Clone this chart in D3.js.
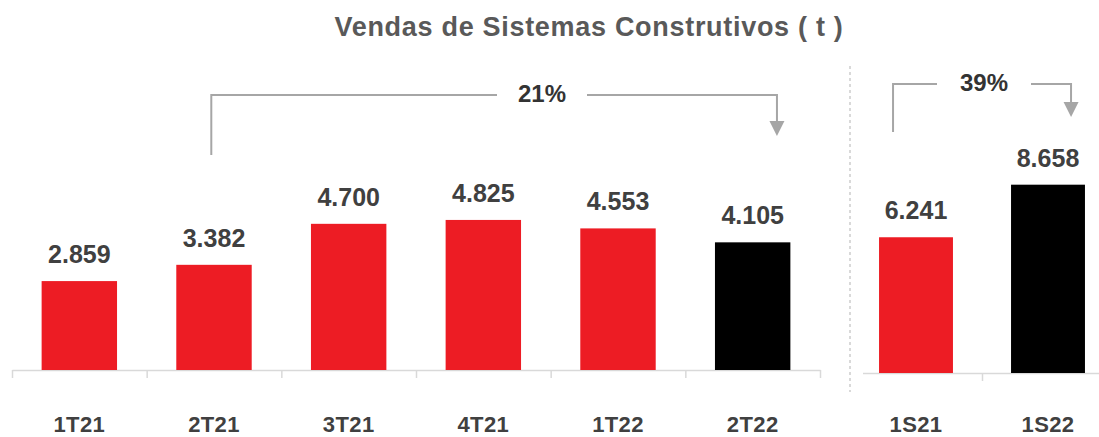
<!DOCTYPE html>
<html>
<head>
<meta charset="utf-8">
<script src="https://cdn.jsdelivr.net/npm/d3@7"></script>
<style>
  body { margin: 0; background: #fff; }
  svg { display: block; font-family: "Liberation Sans", Arial, sans-serif; }
</style>
</head>
<body>
<div id="container"></div>
<script>
/* DATA */
const quarters = ["1T21", "2T21", "3T21", "4T21", "1T22", "2T22"];
const quarterValues = [2859, 3382, 4700, 4825, 4553, 4105];
const semesters = ["1S21", "1S22"];
const semesterValues = [6241, 8658];
const growthLabels = ["21%", "39%"];
const title = "Vendas de Sistemas Construtivos ( t )";

/* CONSTANTS */
const width = 1099;
const height = 437;
const red = "#ed1c24";
const textColor = "#404040";
const grey = "#a6a6a6";

const locale = d3.formatLocale({ decimal: ",", thousands: ".", grouping: [3], currency: ["R$", ""] });
const fmt = locale.format(",d");

const svg = d3.select("#container")
  .append("svg")
  .attr("width", width)
  .attr("height", height);

/* SCALES */
const xL = d3.scaleBand()
  .domain(quarters)
  .range([12, 820])
  .paddingInner(0.44)
  .paddingOuter(0.22);

const yL = d3.scaleLinear()
  .domain([0, 5000])
  .range([370, 214.5]);

const xR = d3.scaleBand()
  .domain(semesters)
  .range([850, 1114])
  .paddingInner(0.44)
  .paddingOuter(0.22);

const yR = d3.scaleLinear()
  .domain([0, 10000])
  .range([373, 155.5]);

// title
svg.append("text")
  .attr("x", 589)
  .attr("y", 36)
  .attr("text-anchor", "middle")
  .attr("fill", "#595959")
  .attr("font-weight", "bold")
  .attr("font-size", 27)
  .attr("letter-spacing", 0.7)
  .text(title);

// axes (ticks on band edges)
const edgesL = d3.scaleLinear().domain([0, quarters.length]).range(xL.range());
svg.append("g")
  .attr("transform", `translate(0, ${yL(0)})`)
  .call(d3.axisBottom(edgesL).tickValues(d3.range(quarters.length + 1)).tickFormat("").tickSize(8).tickSizeOuter(0))
  .call(g => g.selectAll("path, line").attr("stroke", "#d9d9d9").attr("stroke-width", 1.5));

const edgesR = d3.scaleLinear().domain([0, semesters.length]).range(xR.range());
svg.append("g")
  .attr("transform", `translate(0, ${yR(0)})`)
  .call(d3.axisBottom(edgesR).tickValues([1]).tickFormat("").tickSize(8).tickSizeOuter(0))
  .call(g => g.select("path").attr("d", `M863,0.5H1099`))
  .call(g => g.selectAll("path, line").attr("stroke", "#d9d9d9").attr("stroke-width", 1.5));

// separator
svg.append("line")
  .attr("x1", 850).attr("x2", 850)
  .attr("y1", 66).attr("y2", 392)
  .attr("stroke", "#d9d9d9")
  .attr("stroke-width", 2)
  .attr("stroke-dasharray", "3,3");

// bars left
svg.selectAll("rect.barL")
  .data(quarters)
  .join("rect")
  .attr("class", "barL")
  .attr("x", d => xL(d))
  .attr("width", xL.bandwidth())
  .attr("y", (d, i) => yL(quarterValues[i]))
  .attr("height", (d, i) => yL(0) - yL(quarterValues[i]))
  .attr("fill", (d, i) => i === quarters.length - 1 ? "#000" : red);

svg.selectAll("text.valL")
  .data(quarters)
  .join("text")
  .attr("class", "valL")
  .attr("x", d => xL(d) + xL.bandwidth() / 2)
  .attr("y", (d, i) => yL(quarterValues[i]) - 18)
  .attr("text-anchor", "middle")
  .attr("fill", textColor)
  .attr("font-weight", "bold")
  .attr("font-size", 25)
  .text((d, i) => fmt(quarterValues[i]));

svg.selectAll("text.catL")
  .data(quarters)
  .join("text")
  .attr("class", "catL")
  .attr("x", d => xL(d) + xL.bandwidth() / 2)
  .attr("y", 432)
  .attr("text-anchor", "middle")
  .attr("fill", textColor)
  .attr("font-weight", "bold")
  .attr("font-size", 22)
  .attr("letter-spacing", 0.4)
  .text(d => d);

// bars right
svg.selectAll("rect.barR")
  .data(semesters)
  .join("rect")
  .attr("class", "barR")
  .attr("x", d => xR(d))
  .attr("width", xR.bandwidth())
  .attr("y", (d, i) => yR(semesterValues[i]))
  .attr("height", (d, i) => yR(0) - yR(semesterValues[i]))
  .attr("fill", (d, i) => i === semesters.length - 1 ? "#000" : red);

svg.selectAll("text.valR")
  .data(semesters)
  .join("text")
  .attr("class", "valR")
  .attr("x", d => xR(d) + xR.bandwidth() / 2)
  .attr("y", (d, i) => yR(semesterValues[i]) - 18)
  .attr("text-anchor", "middle")
  .attr("fill", textColor)
  .attr("font-weight", "bold")
  .attr("font-size", 25)
  .text((d, i) => fmt(semesterValues[i]));

svg.selectAll("text.catR")
  .data(semesters)
  .join("text")
  .attr("class", "catR")
  .attr("x", d => xR(d) + xR.bandwidth() / 2)
  .attr("y", 432)
  .attr("text-anchor", "middle")
  .attr("fill", textColor)
  .attr("font-weight", "bold")
  .attr("font-size", 22)
  .attr("letter-spacing", 0.4)
  .text(d => d);

// growth brackets
function bracket(x1, x2, yTop, yLeftEnd, yArrow, gapL, gapR, label) {
  const g = svg.append("g");
  g.append("path")
    .attr("d", `M${x1},${yLeftEnd}V${yTop}H${gapL}`)
    .attr("fill", "none").attr("stroke", grey).attr("stroke-width", 2);
  g.append("path")
    .attr("d", `M${gapR},${yTop}H${x2}V${yArrow}`)
    .attr("fill", "none").attr("stroke", grey).attr("stroke-width", 2);
  g.append("path")
    .attr("d", `M${x2 - 7.5},${yArrow}H${x2 + 7.5}L${x2},${yArrow + 15}Z`)
    .attr("fill", grey);
  g.append("text")
    .attr("x", (gapL + gapR) / 2)
    .attr("y", yTop + 7)
    .attr("text-anchor", "middle")
    .attr("fill", "#333")
    .attr("font-weight", "bold")
    .attr("font-size", 24)
    .text(label);
}

bracket(xL("2T21") + 35, xL("2T22") + 62, 95, 155, 121, 497, 587, growthLabels[0]);
bracket(xR("1S21") + 14, xR("1S22") + 60, 84, 132, 102, 937, 1031, growthLabels[1]);
</script>
</body>
</html>
